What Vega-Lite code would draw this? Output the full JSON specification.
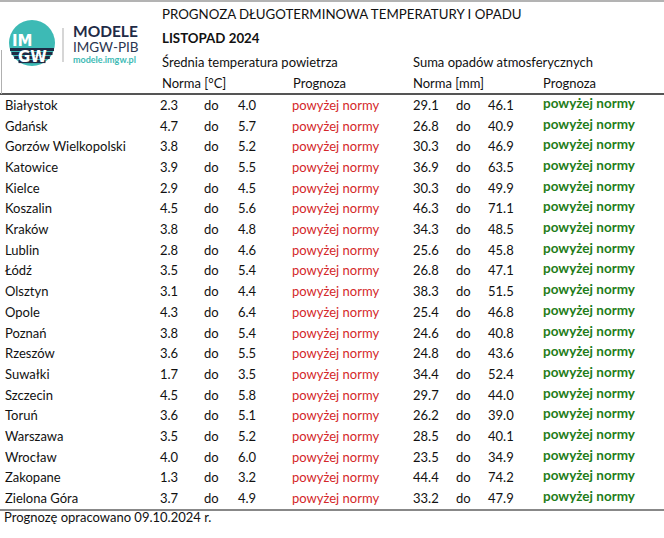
{
"$schema": "https://vega.github.io/schema/vega-lite/v6.json",
"width": 664, "height": 538, "padding": 0, "autosize": "none",
"background": "white",
"config": {"view": {"stroke": null}, "text": {"font": "Lato", "fontSize": 13, "align": "left", "baseline": "alphabetic", "color": "#111111"}},
"data": {"values": [
{"city": "Białystok", "tlo": 2.3, "thi": 4.0, "tprog": "powyżej normy", "plo": 29.1, "phi": 46.1, "pprog": "powyżej normy"},
{"city": "Gdańsk", "tlo": 4.7, "thi": 5.7, "tprog": "powyżej normy", "plo": 26.8, "phi": 40.9, "pprog": "powyżej normy"},
{"city": "Gorzów Wielkopolski", "tlo": 3.8, "thi": 5.2, "tprog": "powyżej normy", "plo": 30.3, "phi": 46.9, "pprog": "powyżej normy"},
{"city": "Katowice", "tlo": 3.9, "thi": 5.5, "tprog": "powyżej normy", "plo": 36.9, "phi": 63.5, "pprog": "powyżej normy"},
{"city": "Kielce", "tlo": 2.9, "thi": 4.5, "tprog": "powyżej normy", "plo": 30.3, "phi": 49.9, "pprog": "powyżej normy"},
{"city": "Koszalin", "tlo": 4.5, "thi": 5.6, "tprog": "powyżej normy", "plo": 46.3, "phi": 71.1, "pprog": "powyżej normy"},
{"city": "Kraków", "tlo": 3.8, "thi": 4.8, "tprog": "powyżej normy", "plo": 34.3, "phi": 48.5, "pprog": "powyżej normy"},
{"city": "Lublin", "tlo": 2.8, "thi": 4.6, "tprog": "powyżej normy", "plo": 25.6, "phi": 45.8, "pprog": "powyżej normy"},
{"city": "Łódź", "tlo": 3.5, "thi": 5.4, "tprog": "powyżej normy", "plo": 26.8, "phi": 47.1, "pprog": "powyżej normy"},
{"city": "Olsztyn", "tlo": 3.1, "thi": 4.4, "tprog": "powyżej normy", "plo": 38.3, "phi": 51.5, "pprog": "powyżej normy"},
{"city": "Opole", "tlo": 4.3, "thi": 6.4, "tprog": "powyżej normy", "plo": 25.4, "phi": 46.8, "pprog": "powyżej normy"},
{"city": "Poznań", "tlo": 3.8, "thi": 5.4, "tprog": "powyżej normy", "plo": 24.6, "phi": 40.8, "pprog": "powyżej normy"},
{"city": "Rzeszów", "tlo": 3.6, "thi": 5.5, "tprog": "powyżej normy", "plo": 24.8, "phi": 43.6, "pprog": "powyżej normy"},
{"city": "Suwałki", "tlo": 1.7, "thi": 3.5, "tprog": "powyżej normy", "plo": 34.4, "phi": 52.4, "pprog": "powyżej normy"},
{"city": "Szczecin", "tlo": 4.5, "thi": 5.8, "tprog": "powyżej normy", "plo": 29.7, "phi": 44.0, "pprog": "powyżej normy"},
{"city": "Toruń", "tlo": 3.6, "thi": 5.1, "tprog": "powyżej normy", "plo": 26.2, "phi": 39.0, "pprog": "powyżej normy"},
{"city": "Warszawa", "tlo": 3.5, "thi": 5.2, "tprog": "powyżej normy", "plo": 28.5, "phi": 40.1, "pprog": "powyżej normy"},
{"city": "Wrocław", "tlo": 4.0, "thi": 6.0, "tprog": "powyżej normy", "plo": 23.5, "phi": 34.9, "pprog": "powyżej normy"},
{"city": "Zakopane", "tlo": 1.3, "thi": 3.2, "tprog": "powyżej normy", "plo": 44.4, "phi": 74.2, "pprog": "powyżej normy"},
{"city": "Zielona Góra", "tlo": 3.7, "thi": 4.9, "tprog": "powyżej normy", "plo": 33.2, "phi": 47.9, "pprog": "powyżej normy"}
]},
"layer": [
{"mark": {"type": "text"}, "encoding": {
  "x": {"datum": 5, "type": "quantitative", "scale": {"domain": [0, 664], "range": [0, 664]}, "axis": null},
  "y": {"field": "city", "type": "nominal", "sort": null, "scale": {"type": "point", "range": [110, 503], "padding": 0}, "axis": null},
  "text": {"field": "city"}}},
{"mark": {"type": "text"}, "encoding": {
  "x": {"datum": 160, "type": "quantitative", "scale": {"domain": [0, 664], "range": [0, 664]}, "axis": null},
  "y": {"field": "city", "type": "nominal", "sort": null, "scale": {"type": "point", "range": [110, 503], "padding": 0}, "axis": null},
  "text": {"field": "tlo", "type": "quantitative", "format": ".1f"}}},
{"mark": {"type": "text"}, "encoding": {
  "x": {"datum": 204, "type": "quantitative", "scale": {"domain": [0, 664], "range": [0, 664]}, "axis": null},
  "y": {"field": "city", "type": "nominal", "sort": null, "scale": {"type": "point", "range": [110, 503], "padding": 0}, "axis": null},
  "text": {"value": "do"}}},
{"mark": {"type": "text"}, "encoding": {
  "x": {"datum": 238, "type": "quantitative", "scale": {"domain": [0, 664], "range": [0, 664]}, "axis": null},
  "y": {"field": "city", "type": "nominal", "sort": null, "scale": {"type": "point", "range": [110, 503], "padding": 0}, "axis": null},
  "text": {"field": "thi", "type": "quantitative", "format": ".1f"}}},
{"mark": {"type": "text", "color": "#d4282a"}, "encoding": {
  "x": {"datum": 292, "type": "quantitative", "scale": {"domain": [0, 664], "range": [0, 664]}, "axis": null},
  "y": {"field": "city", "type": "nominal", "sort": null, "scale": {"type": "point", "range": [110, 503], "padding": 0}, "axis": null},
  "text": {"field": "tprog"}}},
{"mark": {"type": "text"}, "encoding": {
  "x": {"datum": 413, "type": "quantitative", "scale": {"domain": [0, 664], "range": [0, 664]}, "axis": null},
  "y": {"field": "city", "type": "nominal", "sort": null, "scale": {"type": "point", "range": [110, 503], "padding": 0}, "axis": null},
  "text": {"field": "plo", "type": "quantitative", "format": ".1f"}}},
{"mark": {"type": "text"}, "encoding": {
  "x": {"datum": 456, "type": "quantitative", "scale": {"domain": [0, 664], "range": [0, 664]}, "axis": null},
  "y": {"field": "city", "type": "nominal", "sort": null, "scale": {"type": "point", "range": [110, 503], "padding": 0}, "axis": null},
  "text": {"value": "do"}}},
{"mark": {"type": "text"}, "encoding": {
  "x": {"datum": 488, "type": "quantitative", "scale": {"domain": [0, 664], "range": [0, 664]}, "axis": null},
  "y": {"field": "city", "type": "nominal", "sort": null, "scale": {"type": "point", "range": [110, 503], "padding": 0}, "axis": null},
  "text": {"field": "phi", "type": "quantitative", "format": ".1f"}}},
{"mark": {"type": "text", "color": "#1f7d1a", "fontWeight": "bold", "fontSize": 13.5, "dy": -2}, "encoding": {
  "x": {"datum": 543, "type": "quantitative", "scale": {"domain": [0, 664], "range": [0, 664]}, "axis": null},
  "y": {"field": "city", "type": "nominal", "sort": null, "scale": {"type": "point", "range": [110, 503], "padding": 0}, "axis": null},
  "text": {"field": "pprog"}}},
{"data": {"values": [
  {"label": "Średnia temperatura powietrza", "px": 162, "py": 67},
  {"label": "Suma opadów atmosferycznych", "px": 413, "py": 67},
  {"label": "Norma [°C]", "px": 162, "py": 88},
  {"label": "Prognoza", "px": 293, "py": 88},
  {"label": "Norma [mm]", "px": 413, "py": 88},
  {"label": "Prognoza", "px": 543, "py": 88},
  {"label": "Prognozę opracowano 09.10.2024 r.", "px": 4, "py": 522}
 ]},
 "mark": {"type": "text"},
 "encoding": {
  "x": {"field": "px", "type": "quantitative", "scale": {"domain": [0, 664], "range": [0, 664]}, "axis": null},
  "y": {"field": "py", "type": "quantitative", "scale": {"domain": [0, 538], "range": [0, 538]}, "axis": null},
  "text": {"field": "label"}}},
{"data": {"values": [{"label": "PROGNOZA DŁUGOTERMINOWA TEMPERATURY I OPADU"}]},
 "mark": {"type": "text", "fontSize": 13.3},
 "encoding": {
  "x": {"datum": 162, "type": "quantitative", "scale": {"domain": [0, 664], "range": [0, 664]}, "axis": null},
  "y": {"datum": 18.5, "type": "quantitative", "scale": {"domain": [0, 538], "range": [0, 538]}, "axis": null},
  "text": {"field": "label"}}},
{"data": {"values": [{"label": "LISTOPAD 2024"}]},
 "mark": {"type": "text", "fontSize": 13.3, "fontWeight": "bold"},
 "encoding": {
  "x": {"datum": 162, "type": "quantitative", "scale": {"domain": [0, 664], "range": [0, 664]}, "axis": null},
  "y": {"datum": 43, "type": "quantitative", "scale": {"domain": [0, 538], "range": [0, 538]}, "axis": null},
  "text": {"field": "label"}}},
{"data": {"values": [{}]}, "mark": {"type": "rule", "color": "#9a9a9a", "strokeWidth": 1.5}, "encoding": {
  "x": {"datum": 0, "type": "quantitative", "scale": {"domain": [0, 664], "range": [0, 664]}, "axis": null},
  "x2": {"datum": 664},
  "y": {"datum": 1, "type": "quantitative", "scale": {"domain": [0, 538], "range": [0, 538]}, "axis": null}}},
{"data": {"values": [{}]}, "mark": {"type": "rule", "color": "#555555", "strokeWidth": 2}, "encoding": {
  "x": {"datum": 0, "type": "quantitative", "scale": {"domain": [0, 664], "range": [0, 664]}, "axis": null},
  "x2": {"datum": 664},
  "y": {"datum": 94, "type": "quantitative", "scale": {"domain": [0, 538], "range": [0, 538]}, "axis": null}}},
{"data": {"values": [{}]}, "mark": {"type": "rule", "color": "#888888", "strokeWidth": 2}, "encoding": {
  "x": {"datum": 0, "type": "quantitative", "scale": {"domain": [0, 664], "range": [0, 664]}, "axis": null},
  "x2": {"datum": 664},
  "y": {"datum": 510, "type": "quantitative", "scale": {"domain": [0, 538], "range": [0, 538]}, "axis": null}}},
{"data": {"values": [{}]}, "mark": {"type": "rule", "color": "#b0b0b0", "strokeWidth": 1}, "encoding": {
  "x": {"datum": 1.5, "type": "quantitative", "scale": {"domain": [0, 664], "range": [0, 664]}, "axis": null},
  "y": {"datum": 50, "type": "quantitative", "scale": {"domain": [0, 538], "range": [0, 538]}, "axis": null},
  "y2": {"datum": 94}}},
{"data": {"values": [{}]}, "mark": {"type": "rule", "color": "#c8c8c8", "strokeWidth": 1.5}, "encoding": {
  "x": {"datum": 63, "type": "quantitative", "scale": {"domain": [0, 664], "range": [0, 664]}, "axis": null},
  "y": {"datum": 28, "type": "quantitative", "scale": {"domain": [0, 538], "range": [0, 538]}, "axis": null},
  "y2": {"datum": 62}}},
{"data": {"values": [{}]}, "mark": {"type": "arc", "outerRadius": 23, "theta": 0, "theta2": 6.2832, "color": "#3dbab5"}, "encoding": {
  "x": {"datum": 32, "type": "quantitative", "scale": {"domain": [0, 664], "range": [0, 664]}, "axis": null},
  "y": {"datum": 43, "type": "quantitative", "scale": {"domain": [0, 538], "range": [0, 538]}, "axis": null}}},
{"data": {"values": [{}]}, "mark": {"type": "rule", "color": "#1e2b45", "strokeWidth": 3.2}, "encoding": {
  "x": {"datum": 10, "type": "quantitative", "scale": {"domain": [0, 664], "range": [0, 664]}, "axis": null},
  "x2": {"datum": 54},
  "y": {"datum": 49.5, "type": "quantitative", "scale": {"domain": [0, 538], "range": [0, 538]}, "axis": null}}},
{"data": {"values": [{}]}, "mark": {"type": "rule", "color": "#1e2b45", "strokeWidth": 3.2}, "encoding": {
  "x": {"datum": 11.5, "type": "quantitative", "scale": {"domain": [0, 664], "range": [0, 664]}, "axis": null},
  "x2": {"datum": 52.5},
  "y": {"datum": 53.5, "type": "quantitative", "scale": {"domain": [0, 538], "range": [0, 538]}, "axis": null}}},
{"data": {"values": [{}]}, "mark": {"type": "rule", "color": "#1e2b45", "strokeWidth": 3.2}, "encoding": {
  "x": {"datum": 14.2, "type": "quantitative", "scale": {"domain": [0, 664], "range": [0, 664]}, "axis": null},
  "x2": {"datum": 49.8},
  "y": {"datum": 57.5, "type": "quantitative", "scale": {"domain": [0, 538], "range": [0, 538]}, "axis": null}}},
{"data": {"values": [{}]}, "mark": {"type": "rule", "color": "#1e2b45", "strokeWidth": 3.2}, "encoding": {
  "x": {"datum": 18.5, "type": "quantitative", "scale": {"domain": [0, 664], "range": [0, 664]}, "axis": null},
  "x2": {"datum": 45.5},
  "y": {"datum": 61.5, "type": "quantitative", "scale": {"domain": [0, 538], "range": [0, 538]}, "axis": null}}},
{"data": {"values": [{"label": "IM"}]},
 "mark": {"type": "text", "color": "white", "fontWeight": "bold", "font": "DejaVu Sans", "fontSize": 15},
 "encoding": {
  "x": {"datum": 12, "type": "quantitative", "scale": {"domain": [0, 664], "range": [0, 664]}, "axis": null},
  "y": {"datum": 46, "type": "quantitative", "scale": {"domain": [0, 538], "range": [0, 538]}, "axis": null},
  "text": {"field": "label"}}},
{"data": {"values": [{"label": "GW"}]},
 "mark": {"type": "text", "color": "white", "fontWeight": "bold", "font": "DejaVu Sans", "fontSize": 15},
 "encoding": {
  "x": {"datum": 18, "type": "quantitative", "scale": {"domain": [0, 664], "range": [0, 664]}, "axis": null},
  "y": {"datum": 62, "type": "quantitative", "scale": {"domain": [0, 538], "range": [0, 538]}, "axis": null},
  "text": {"field": "label"}}},
{"data": {"values": [{"label": "MODELE"}]},
 "mark": {"type": "text", "color": "#1f2b47", "fontWeight": "bold", "fontSize": 15.5},
 "encoding": {
  "x": {"datum": 73, "type": "quantitative", "scale": {"domain": [0, 664], "range": [0, 664]}, "axis": null},
  "y": {"datum": 37, "type": "quantitative", "scale": {"domain": [0, 538], "range": [0, 538]}, "axis": null},
  "text": {"field": "label"}}},
{"data": {"values": [{"label": "IMGW-PIB"}]},
 "mark": {"type": "text", "color": "#2b3650", "fontSize": 13.5},
 "encoding": {
  "x": {"datum": 73, "type": "quantitative", "scale": {"domain": [0, 664], "range": [0, 664]}, "axis": null},
  "y": {"datum": 52, "type": "quantitative", "scale": {"domain": [0, 538], "range": [0, 538]}, "axis": null},
  "text": {"field": "label"}}},
{"data": {"values": [{"label": "modele.imgw.pl"}]},
 "mark": {"type": "text", "color": "#3dbab5", "fontWeight": "bold", "fontSize": 9},
 "encoding": {
  "x": {"datum": 73, "type": "quantitative", "scale": {"domain": [0, 664], "range": [0, 664]}, "axis": null},
  "y": {"datum": 63, "type": "quantitative", "scale": {"domain": [0, 538], "range": [0, 538]}, "axis": null},
  "text": {"field": "label"}}}
],
"resolve": {"scale": {"y": "independent"}}
}
